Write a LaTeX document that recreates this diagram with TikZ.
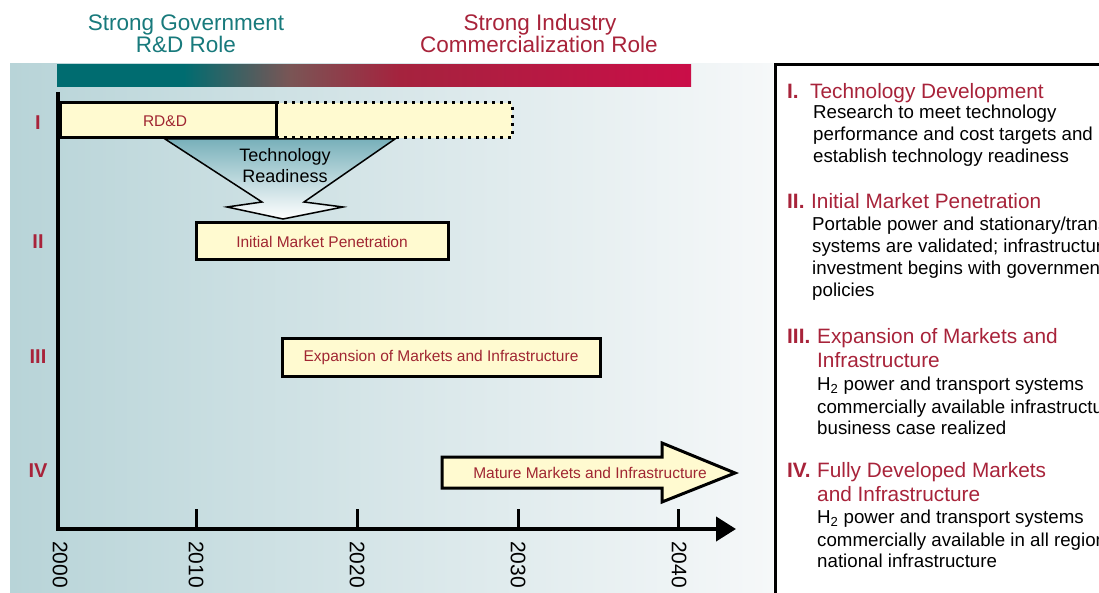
\documentclass[tikz,border=0pt]{standalone}
\usepackage{fontspec}
\setmainfont{Liberation Sans}
\usetikzlibrary{arrows.meta}
\definecolor{titleteal}{RGB}{24,122,124}
\definecolor{crim}{RGB}{168,35,58}
\definecolor{labelcrim}{RGB}{160,38,50}
\definecolor{barteal}{RGB}{0,108,112}
\definecolor{barmid}{RGB}{122,85,85}
\definecolor{barcrim}{RGB}{165,35,62}
\definecolor{barend}{RGB}{202,14,72}
\definecolor{bgleft}{RGB}{184,212,216}
\definecolor{bgright}{RGB}{246,248,249}
\definecolor{boxfill}{RGB}{255,250,208}
\definecolor{readytop}{RGB}{120,176,186}
\pgfdeclarehorizontalshading{barshade}{100bp}{color(0bp)=(barteal); color(25bp)=(barteal); color(35bp)=(barteal); color(43.4bp)=(barmid); color(52bp)=(barcrim); color(75bp)=(barend); color(100bp)=(barend)}
\tikzset{
  stagebox/.style={draw, line width=3pt, fill=boxfill},
  boxlbl/.style={text=labelcrim, inner sep=0pt, font=\fontsize{15.5}{18}\selectfont},
  romanlbl/.style={text=crim, inner sep=0pt, font=\bfseries\fontsize{20}{24}\selectfont},
  yearlbl/.style={rotate=-90, anchor=west, inner sep=0pt, font=\fontsize{21}{24}\selectfont},
  titlelbl/.style={inner sep=0pt, anchor=base, font=\fontsize{22.5}{26}\selectfont},
  hdr/.style={anchor=base west, inner sep=0pt, text=crim, font=\fontsize{20.8}{24}\selectfont},
  bodytxt/.style={anchor=base west, inner sep=0pt, font=\fontsize{18.7}{22}\selectfont},
  axisline/.style={line width=4pt},
  tickline/.style={line width=3pt}
}
\begin{document}
\begin{tikzpicture}[x=1pt,y=-1pt]
\useasboundingbox (0,0) rectangle (1099,593);
\fill[white] (0,0) rectangle (1099,593);
% background panel
\shade[left color=bgleft, right color=bgright] (10,64) rectangle (773,593);
% titles
\node[titlelbl, text=titleteal] (gov1) at (186,31) {Strong Government};
\node[titlelbl, text=titleteal] (gov2) at (186,53) {R\&D Role};
\node[titlelbl, text=crim] (ind1) at (540,31) {Strong Industry};
\node[titlelbl, text=crim] (ind2) at (539,53) {Commercialization Role};
% gradient bar
\shade[shading=barshade] (57,65) rectangle (691,87);
% technology readiness arrow
\path[draw=black, line width=1.5pt, top color=readytop, bottom color=white]
  (165,139) -- (262,202) -- (227,207) -- (283,219) -- (343,207) -- (304,202) -- (395,139) -- cycle;
\node[inner sep=0pt, anchor=base, font=\fontsize{18}{22}\selectfont] (tr1) at (285,162) {Technology};
\node[inner sep=0pt, anchor=base, font=\fontsize{18}{22}\selectfont] (tr2) at (285,183) {Readiness};
% stage I
\draw[line width=3pt, dash pattern=on 3pt off 5pt, fill=boxfill] (276,103) -- (512,103) -- (512,138) -- (276,138);
\draw[stagebox] (60,103) rectangle (276,138);
\node[boxlbl] (rdd) at (165,121) {RD\&D};
% stage II
\draw[stagebox] (196,223) rectangle (448,260);
\node[boxlbl] (imp) at (322,241.5) {Initial Market Penetration};
% stage III
\draw[stagebox] (282,338) rectangle (600,376);
\node[boxlbl] (emi) at (441,357) {Expansion of Markets and Infrastructure};
% stage IV arrow
\draw[line width=3pt, fill=boxfill, line join=miter]
  (442,457) -- (662,457) -- (662,443) -- (735,473) -- (662,502) -- (662,488) -- (442,488) -- cycle;
\node[boxlbl] (mmi) at (590,473) {Mature Markets and Infrastructure};
% roman numerals
\node[romanlbl] (r1) at (38,123) {I};
\node[romanlbl] (r2) at (38,242) {II};
\node[romanlbl] (r3) at (38,357) {III};
\node[romanlbl] (r4) at (38,471) {IV};
% axes
\coordinate (origin) at (58,529);
\coordinate (ytop) at (58,92);
\coordinate (xend) at (736,529);
\draw[axisline] (ytop) -- (origin);
\draw[axisline, -{Triangle[length=20pt,width=24pt]}] (56,529) -- (xend);
\foreach \x in {196,357,518,678} {\draw[tickline] (\x,509) -- (\x,529);}
\node[yearlbl] (y2000) at (60,541) {2000};
\node[yearlbl] (y2010) at (196,541) {2010};
\node[yearlbl] (y2020) at (357,541) {2020};
\node[yearlbl] (y2030) at (518,541) {2030};
\node[yearlbl] (y2040) at (679,541) {2040};
% right panel (cut off at the right edge, as in the reference)
\begin{scope}
\clip (0,0) rectangle (1099,593);
\draw[line width=3pt] (775,595) -- (775,64.5) -- (1105,64.5);
\node[hdr] (h1n) at (787,99) {\bfseries I.};
\node[hdr] (h1) at (810,99) {Technology Development};
\node[bodytxt] (b1a) at (813,119) {Research to meet technology};
\node[bodytxt] (b1b) at (813,141) {performance and cost targets and};
\node[bodytxt] (b1c) at (813,163) {establish technology readiness};
\node[hdr] (h2n) at (787,209) {\bfseries II.};
\node[hdr] (h2) at (811,209) {Initial Market Penetration};
\node[bodytxt] (b2a) at (812,231) {Portable power and stationary/transport};
\node[bodytxt] (b2b) at (812,253) {systems are validated; infrastructure};
\node[bodytxt] (b2c) at (812,275) {investment begins with government};
\node[bodytxt] (b2d) at (812,297) {policies};
\node[hdr] (h3n) at (787,343) {\bfseries III.};
\node[hdr] (h3) at (817,343) {Expansion of Markets and};
\node[hdr] (h3b) at (817,367) {Infrastructure};
\node[bodytxt] (b3a) at (817,390) {H\textsubscript{2} power and transport systems};
\node[bodytxt] (b3b) at (817,413) {commercially available infrastructure};
\node[bodytxt] (b3c) at (817,434) {business case realized};
\node[hdr] (h4n) at (787,477) {\bfseries IV.};
\node[hdr] (h4) at (817,477) {Fully Developed Markets};
\node[hdr] (h4b) at (817,501) {and Infrastructure};
\node[bodytxt] (b4a) at (817,523) {H\textsubscript{2} power and transport systems};
\node[bodytxt] (b4b) at (817,546) {commercially available in all regions};
\node[bodytxt] (b4c) at (817,567) {national infrastructure};
\end{scope}
\end{tikzpicture}
\end{document}
